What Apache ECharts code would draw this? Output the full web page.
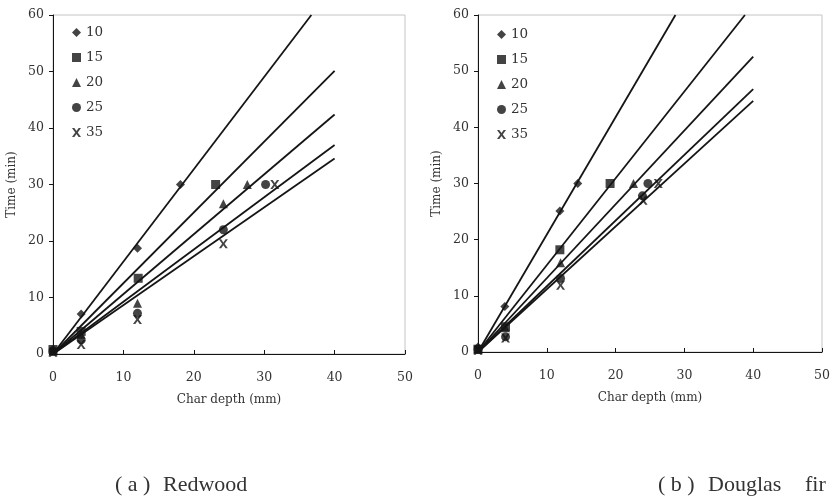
<!DOCTYPE html>
<html>
<head>
<meta charset="utf-8">
<title>Char depth vs time</title>
<script src="https://cdn.jsdelivr.net/npm/echarts@6/dist/echarts.min.js"></script>
<style>
  html, body { margin: 0; padding: 0; background: #fff; }
  #main { width: 833px; height: 501px; }
</style>
</head>
<body>
<div id="main"></div>
<script>
// heat flux groups (legend)
const groups = ['10', '15', '20', '25', '35'];

// (a) Redwood: measured [char depth mm, time min]
const red10 = [[0, 0.8], [4, 7.1], [12, 18.7], [18.1, 30]];
const red15 = [[0, 0.8], [4, 4.0], [12.1, 13.4], [23.1, 30]];
const red20 = [[0, 0.5], [4, 3.5], [12, 9.0], [24.2, 26.6], [27.6, 30]];
const red25 = [[0, 0.5], [4, 2.5], [12, 7.2], [24.2, 22.0], [30.2, 30]];
const red35 = [[0, 0.3], [4, 1.7], [12, 6.1], [24.2, 19.5], [31.5, 30]];
// (a) Redwood: fitted lines (start, end)
const redFit10 = [[0, 0], [36.7, 60]];
const redFit15 = [[0, 0], [40, 50.1]];
const redFit20 = [[0, 0], [40, 42.4]];
const redFit25 = [[0, 0], [40, 37.0]];
const redFit35 = [[0, 0], [40, 34.6]];

// (b) Douglas fir: measured
const dou10 = [[0, 0.9], [3.9, 8.1], [11.9, 25.1], [14.5, 30]];
const dou15 = [[0, 0.5], [4, 4.5], [11.9, 18.2], [19.2, 30]];
const dou20 = [[0, 0.5], [4, 4.3], [12, 15.9], [22.6, 30]];
const dou25 = [[0, 0.5], [4, 2.7], [12, 13.1], [23.9, 27.8], [24.7, 30]];
const dou35 = [[0, 0.3], [4, 2.5], [12, 11.9], [24, 27.0], [26.2, 30]];
// (b) Douglas fir: fitted lines
const douFit10 = [[0, 0], [28.7, 60]];
const douFit15 = [[0, 0], [38.8, 60]];
const douFit20 = [[0, 0], [40, 52.6]];
const douFit25 = [[0, 0], [40, 46.8]];
const douFit35 = [[0, 0], [40, 44.7]];

const redPts = [red10, red15, red20, red25, red35];
const redFit = [redFit10, redFit15, redFit20, redFit25, redFit35];
const douPts = [dou10, dou15, dou20, dou25, dou35];
const douFit = [douFit10, douFit15, douFit20, douFit25, douFit35];

const ink = '#151515';
const txt = '#333333';
const serif = 'DejaVu Serif';
const xMark = 'path://M0,0 L2.6,0 L5,3.4 L7.4,0 L10,0 L6.4,5 L10,10 L7.4,10 L5,6.6 L2.6,10 L0,10 L3.6,5 Z';
const symbols = ['diamond', 'rect', 'triangle', 'circle', xMark];
const symSize = [9, 9, 9, 9, 9];

var chart = echarts.init(document.getElementById('main'));

function xAxisFor(i) {
  return {
    type: 'value', gridIndex: i, min: 0, max: 50, interval: 10,
    name: 'Char depth (mm)', nameLocation: 'middle', nameGap: 40,
    nameTextStyle: { fontFamily: serif, fontSize: 12, color: txt },
    axisLine: { show: true, onZero: false, lineStyle: { color: ink, width: 1 } },
    axisTick: { show: true, inside: true, length: 4, lineStyle: { color: ink } },
    axisLabel: { fontFamily: serif, fontSize: 12.5, color: txt, margin: 17 },
    splitLine: { show: false }
  };
}
function yAxisFor(i) {
  return {
    type: 'value', gridIndex: i, min: 0, max: 60, interval: 10,
    name: 'Time (min)', nameLocation: 'middle', nameGap: 35,
    nameTextStyle: { fontFamily: serif, fontSize: 12, color: txt },
    axisLine: { show: true, onZero: false, lineStyle: { color: ink, width: 1 } },
    axisTick: { show: true, inside: false, length: 4, lineStyle: { color: ink } },
    axisLabel: { fontFamily: serif, fontSize: 12.5, color: txt, margin: 9 },
    splitLine: { show: false }
  };
}

function legendFor(left, top) {
  return {
    data: groups, orient: 'vertical', left: left, top: top, padding: 0,
    itemWidth: 9, itemHeight: 9, itemGap: 10,
    textStyle: { fontFamily: serif, fontSize: 13.5, color: txt, lineHeight: 15 },
    selectedMode: false
  };
}

var series = [];
[redPts, douPts].forEach(function (set, g) {
  var fits = g === 0 ? redFit : douFit;
  groups.forEach(function (name, k) {
    series.push({
      name: 'fit' + g + '_' + name,
      type: 'line', xAxisIndex: g, yAxisIndex: g,
      data: fits[k], showSymbol: false, silent: true,
      lineStyle: { color: ink, width: 1.8 }, z: 2
    });
    series.push({
      name: name,
      type: 'scatter', xAxisIndex: g, yAxisIndex: g,
      data: set[k], symbol: symbols[k], symbolSize: symSize[k],
      itemStyle: { color: ink }, z: 3
    });
  });
});

const capFont = '22px "Liberation Serif"';

var option = {
  backgroundColor: '#ffffff',
  animation: false,
  grid: [
    { left: 53, top: 15, width: 352, height: 339, show: true, borderColor: '#c4c4c4', borderWidth: 1 },
    { left: 478, top: 15, width: 344, height: 337, show: true, borderColor: '#c4c4c4', borderWidth: 1 }
  ],
  xAxis: [xAxisFor(0), xAxisFor(1)],
  yAxis: [yAxisFor(0), yAxisFor(1)],
  legend: [legendFor(72, 25), legendFor(497, 27)],
  graphic: [
    { type: 'text', left: 115, top: 474, style: { text: '( a )', font: capFont, fill: '#333' } },
    { type: 'text', left: 163, top: 474, style: { text: 'Redwood', font: capFont, fill: '#333' } },
    { type: 'text', left: 658, top: 474, style: { text: '( b )', font: capFont, fill: '#333' } },
    { type: 'text', left: 708, top: 474, style: { text: 'Douglas', font: capFont, fill: '#333' } },
    { type: 'text', left: 805, top: 474, style: { text: 'fir', font: capFont, fill: '#333' } }
  ],
  series: series
};
chart.setOption(option);
</script>
</body>
</html>
